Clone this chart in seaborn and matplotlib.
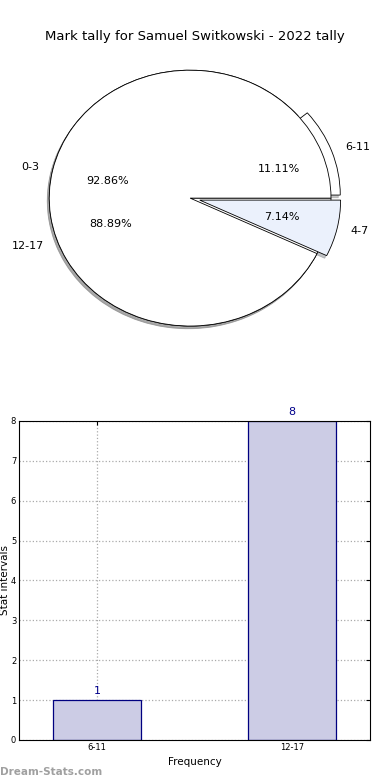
import matplotlib
matplotlib.use('Agg')
import matplotlib.pyplot as plt
import pandas as pd
import seaborn as sns

sns.set_style('white')
plt.rcParams['font.family'] = ['DejaVu Sans']
plt.rcParams['text.color'] = 'black'
plt.rcParams['axes.labelcolor'] = 'black'
plt.rcParams['xtick.color'] = 'black'
plt.rcParams['ytick.color'] = 'black'

# pie data: two tallies drawn on top of each other
pie_a_labels = ['0-3', '4-7']
pie_a_values = [13, 1]
pie_a_colors = ['#ffffff', '#ebf1fc']
pie_a_explode = [0, 0.07]

pie_b_labels = ['6-11', '12-17']
pie_b_values = [1, 8]
pie_b_colors = ['#ffffff', '#ffffff']
pie_b_explode = [0.07, 0]

# bar data
bar_labels = ['6-11', '12-17']
bar_values = [1, 8]

fig = plt.figure(figsize=(3.9, 7.8), dpi=100)
fig.suptitle('Mark tally for Samuel Switkowski - 2022 tally',
             fontsize=9.5, y=0.962)

ax_pie = fig.add_axes([0.036, 0.541, 0.903, 0.41])
wedge_style = {'edgecolor': 'black', 'linewidth': 0.6}
shadow_style = {'ox': -0.01, 'oy': -0.015, 'shade': 0.45}
for labels, values, colors, explode in [
        (pie_b_labels, pie_b_values, pie_b_colors, pie_b_explode),
        (pie_a_labels, pie_a_values, pie_a_colors, pie_a_explode)]:
    ax_pie.pie(values, labels=labels, colors=colors, explode=explode,
               autopct='%.2f%%', shadow=shadow_style, startangle=0,
               wedgeprops=wedge_style, textprops={'fontsize': 8})
ax_pie.set_aspect('auto')
ax_pie.set_xlim(-1.25, 1.25)
ax_pie.set_ylim(-1.25, 1.25)

ax_bar = fig.add_axes([0.0487, 0.0513, 0.9, 0.409])
df = pd.DataFrame({'interval': bar_labels, 'count': bar_values})
sns.barplot(data=df, x='interval', y='count', ax=ax_bar, width=0.45,
            color='#ccccE5', saturation=1, edgecolor='#000080',
            linewidth=0.9, zorder=2)
for i, v in enumerate(bar_values):
    ax_bar.text(i, v + 0.1, str(v), ha='center', va='bottom',
                color='#00008B', fontsize=8)
ax_bar.set_xlim(-0.4, 1.4)
ax_bar.set_ylim(0, 8)
ax_bar.set_yticks(range(0, 9))
ax_bar.grid(True, linestyle=':', color='#aaaaaa', linewidth=0.9, zorder=0)
ax_bar.set_axisbelow(True)
ax_bar.tick_params(axis='both', labelsize=6, direction='in',
                   top=True, right=True, length=3, pad=2)
for side in ax_bar.spines.values():
    side.set_color('black')
    side.set_linewidth(0.8)
ax_bar.set_xlabel('Frequency', fontsize=7.5, labelpad=4)
ax_bar.set_ylabel('Stat intervals', fontsize=7.5, va='center')
ax_bar.yaxis.set_label_coords(-0.039, 0.5)

fig.text(0.0, 0.004, 'Dream-Stats.com', fontsize=7.5, color='#a0a0a0',
         fontweight='bold', ha='left', va='bottom')

fig.savefig('out.png', dpi=100)
